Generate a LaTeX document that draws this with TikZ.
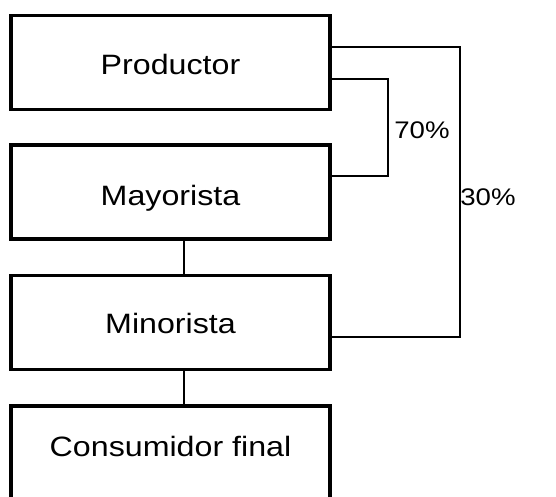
\documentclass[tikz,border=0pt]{standalone}
\usepackage{fontspec}
\setmainfont{Liberation Sans}[FakeStretch=1.15]
\usetikzlibrary{positioning}

\begin{document}
\begin{tikzpicture}[x=1pt,y=-1pt,
        agente/.style={draw,line width=3.5pt,minimum width=319pt,minimum height=94pt,inner sep=0pt,text height=25pt,text depth=0pt,font=\fontsize{28}{30}\selectfont},
        canal/.style={line width=1.6pt},
        pct/.style={font=\fontsize{24}{26}\selectfont}
        ]
        \useasboundingbox (0,0) rectangle (556,497);
        \clip (0,0) rectangle (556,497);

        \node[agente] (prod) at (170.5,62.5) {Productor};
        \node[agente] (may) at (170.5,192) {\raisebox{-0.5pt}{Mayorista}};
        \node[agente] (min) at (170.5,322.5) {\raisebox{1.5pt}{Minorista}};
        \node[agente] (cons) at (170.5,453) {\raisebox{9.5pt}{Consumidor final}};

        \node[pct] (p70) at (422,130) {70\%};
        \node[pct] (p30) at (488,197) {30\%};

        \draw[canal] ([yshift=-16.5pt]prod.east) -- ++(56,0) |- ([yshift=16pt]may.east);
        \draw[canal] ([yshift=15.5pt]prod.east) -- ++(128,0) |- ([yshift=-14.5pt]min.east);

        \draw[canal] ([xshift=13.5pt]may.south) to ([xshift=13.5pt]min.north);
        \draw[canal] ([xshift=13.5pt]min.south) to ([xshift=13.5pt]cons.north);

    \end{tikzpicture}
\end{document}
